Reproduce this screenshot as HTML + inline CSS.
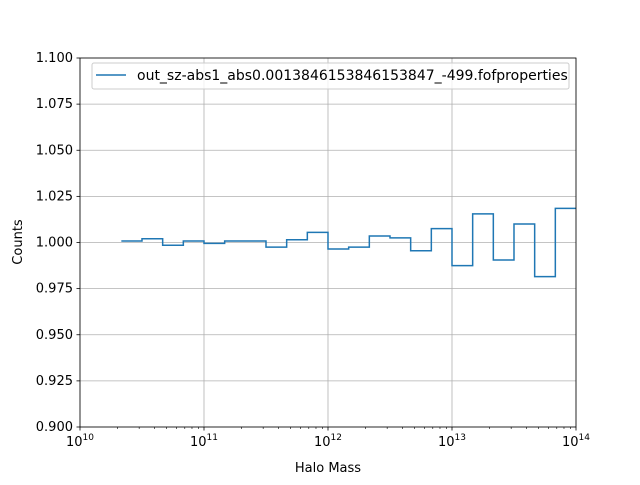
<!DOCTYPE html>
<html><head><meta charset="utf-8"><style>
body{margin:0;background:#fff}
svg text{font-family:"DejaVu Sans","Liberation Sans",sans-serif;fill:#000}
</style></head><body>
<svg id="chart" width="640" height="480">
<rect width="640" height="480" fill="#fff"/>
<g id="grid"></g>
<g id="ticks"></g>
<path id="series" fill="none" stroke="#1f77b4" stroke-width="1.5"/>
<rect x="80" y="58" width="496" height="369" fill="none" stroke="#000" stroke-width="0.8"/>
<g>
<rect x="92" y="63" width="477" height="26" rx="2" fill="#fff" fill-opacity="0.8" stroke="#ccc"/>
<line x1="96" y1="75" x2="126" y2="75" stroke="#1f77b4" stroke-width="1.5"/>
<text x="137" y="80" font-size="14">out_sz-abs1_abs0.0013846153846153847_-499.fofproperties</text>
</g>
<text x="328" y="472" font-size="13" text-anchor="middle">Halo Mass</text>
<text x="22" y="242" font-size="13" text-anchor="middle" transform="rotate(-90 22 242)">Counts</text>
</svg>
<script>
const logEdgeStart = 10.3333;
const binsPerDecade = 6;
const counts = [1.0008,1.002,0.9985,1.0008,0.9995,1.0008,1.0008,0.9975,1.0015,1.0055,0.9965,0.9975,1.0035,1.0025,0.9955,1.0075,0.9875,1.0155,0.9905,1.0100,0.9815,1.0185];
const yTicks = [0.900,0.925,0.950,0.975,1.000,1.025,1.050,1.075,1.100];
const xTickExps = [10,11,12,13,14];
const X0=80,X1=576,Y0=427,Y1=58;
const xs = l => X0 + (l-10)/4*(X1-X0);
const ys = v => Y0 - (v-0.9)/0.2*(Y0-Y1);
const NS="http://www.w3.org/2000/svg";
const grid=document.getElementById('grid'), ticks=document.getElementById('ticks');
function mk(tag,attrs,parent){const e=document.createElementNS(NS,tag);for(const k in attrs)e.setAttribute(k,attrs[k]);parent.appendChild(e);return e;}
yTicks.forEach(v=>{
  const y=ys(v);
  const g=mk('line',{x1:X0,x2:X1,y1:y,y2:y,stroke:'#b0b0b0','stroke-width':0.8},grid);
  
  
  mk('line',{x1:X0-3.5,x2:X0,y1:y,y2:y,stroke:'#000','stroke-width':0.8},ticks);
  const t=mk('text',{x:X0-7,y:y+4,'font-size':13,'text-anchor':'end'},ticks);
  t.textContent=v.toFixed(3);
  
  
});
xTickExps.forEach(e=>{
  const x=xs(e);
  const g=mk('line',{x1:x,x2:x,y1:Y0,y2:Y1,stroke:'#b0b0b0','stroke-width':0.8},grid);
  
  
  mk('line',{x1:x,x2:x,y1:Y0,y2:Y0+3.5,stroke:'#000','stroke-width':0.8},ticks);
  const t=mk('text',{x:x,y:Y0+19,'font-size':13,'text-anchor':'middle'},ticks);
  
  
  t.innerHTML='10<tspan dy="-6" font-size="9">'+e+'</tspan>';
  for(let m=2;m<10;m++){const lx=xs(e+Math.log10(m));if(e<14)mk('line',{x1:lx,x2:lx,y1:Y0,y2:Y0+2,stroke:'#000','stroke-width':0.6},ticks);}
});
let d='';
counts.forEach((c,i)=>{
  const a=xs(logEdgeStart+i/binsPerDecade), b=xs(logEdgeStart+(i+1)/binsPerDecade), y=ys(c);
  d+=(i===0?'M':'L')+a+','+y+' L'+b+','+y+' ';
});
document.getElementById('series').setAttribute('d',d);
</script>
</body></html>
